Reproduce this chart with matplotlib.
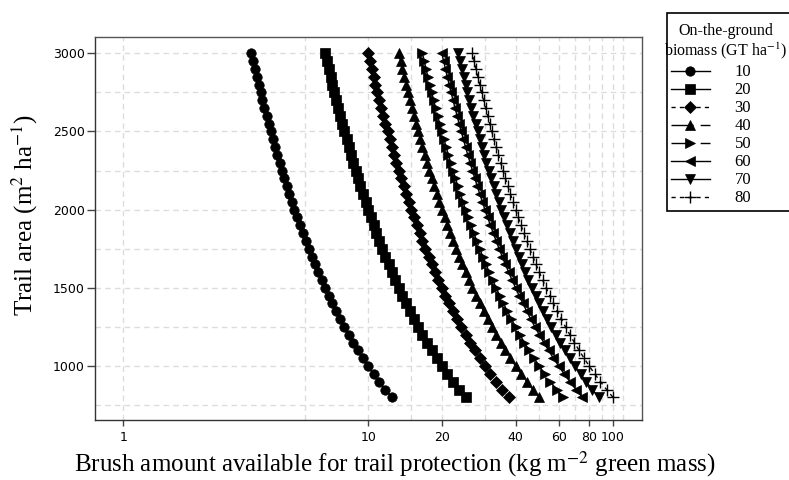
import matplotlib
matplotlib.use("Agg")
import matplotlib.pyplot as plt

plt.rcParams["mathtext.fontset"] = "stix"

trail_area = [800, 850, 900, 950, 1000, 1050, 1100, 1150, 1200, 1250, 1300, 1350, 1400, 1450, 1500,
              1550, 1600, 1650, 1700, 1750, 1800, 1850, 1900, 1950, 2000, 2050, 2100, 2150, 2200, 2250,
              2300, 2350, 2400, 2450, 2500, 2550, 2600, 2650, 2700, 2750, 2800, 2850, 2900, 2950, 3000]

brush_10 = [12.50, 11.76, 11.11, 10.53, 10.00, 9.52, 9.09, 8.70, 8.33, 8.00, 7.69, 7.41, 7.14, 6.90, 6.67,
            6.45, 6.25, 6.06, 5.88, 5.71, 5.56, 5.41, 5.26, 5.13, 5.00, 4.88, 4.76, 4.65, 4.55, 4.44,
            4.35, 4.26, 4.17, 4.08, 4.00, 3.92, 3.85, 3.77, 3.70, 3.64, 3.57, 3.51, 3.45, 3.39, 3.33]
brush_20 = [25.00, 23.53, 22.22, 21.05, 20.00, 19.05, 18.18, 17.39, 16.67, 16.00, 15.38, 14.81, 14.29, 13.79, 13.33,
            12.90, 12.50, 12.12, 11.76, 11.43, 11.11, 10.81, 10.53, 10.26, 10.00, 9.76, 9.52, 9.30, 9.09, 8.89,
            8.70, 8.51, 8.33, 8.16, 8.00, 7.84, 7.69, 7.55, 7.41, 7.27, 7.14, 7.02, 6.90, 6.78, 6.67]
brush_30 = [37.50, 35.29, 33.33, 31.58, 30.00, 28.57, 27.27, 26.09, 25.00, 24.00, 23.08, 22.22, 21.43, 20.69, 20.00,
            19.35, 18.75, 18.18, 17.65, 17.14, 16.67, 16.22, 15.79, 15.38, 15.00, 14.63, 14.29, 13.95, 13.64, 13.33,
            13.04, 12.77, 12.50, 12.24, 12.00, 11.76, 11.54, 11.32, 11.11, 10.91, 10.71, 10.53, 10.34, 10.17, 10.00]
brush_40 = [50.00, 47.06, 44.44, 42.11, 40.00, 38.10, 36.36, 34.78, 33.33, 32.00, 30.77, 29.63, 28.57, 27.59, 26.67,
            25.81, 25.00, 24.24, 23.53, 22.86, 22.22, 21.62, 21.05, 20.51, 20.00, 19.51, 19.05, 18.60, 18.18, 17.78,
            17.39, 17.02, 16.67, 16.33, 16.00, 15.69, 15.38, 15.09, 14.81, 14.55, 14.29, 14.04, 13.79, 13.56, 13.33]
brush_50 = [62.50, 58.82, 55.56, 52.63, 50.00, 47.62, 45.45, 43.48, 41.67, 40.00, 38.46, 37.04, 35.71, 34.48, 33.33,
            32.26, 31.25, 30.30, 29.41, 28.57, 27.78, 27.03, 26.32, 25.64, 25.00, 24.39, 23.81, 23.26, 22.73, 22.22,
            21.74, 21.28, 20.83, 20.41, 20.00, 19.61, 19.23, 18.87, 18.52, 18.18, 17.86, 17.54, 17.24, 16.95, 16.67]
brush_60 = [75.00, 70.59, 66.67, 63.16, 60.00, 57.14, 54.55, 52.17, 50.00, 48.00, 46.15, 44.44, 42.86, 41.38, 40.00,
            38.71, 37.50, 36.36, 35.29, 34.29, 33.33, 32.43, 31.58, 30.77, 30.00, 29.27, 28.57, 27.91, 27.27, 26.67,
            26.09, 25.53, 25.00, 24.49, 24.00, 23.53, 23.08, 22.64, 22.22, 21.82, 21.43, 21.05, 20.69, 20.34, 20.00]
brush_70 = [87.50, 82.35, 77.78, 73.68, 70.00, 66.67, 63.64, 60.87, 58.33, 56.00, 53.85, 51.85, 50.00, 48.28, 46.67,
            45.16, 43.75, 42.42, 41.18, 40.00, 38.89, 37.84, 36.84, 35.90, 35.00, 34.15, 33.33, 32.56, 31.82, 31.11,
            30.43, 29.79, 29.17, 28.57, 28.00, 27.45, 26.92, 26.42, 25.93, 25.45, 25.00, 24.56, 24.14, 23.73, 23.33]
brush_80 = [100.00, 94.12, 88.89, 84.21, 80.00, 76.19, 72.73, 69.57, 66.67, 64.00, 61.54, 59.26, 57.14, 55.17, 53.33,
            51.61, 50.00, 48.48, 47.06, 45.71, 44.44, 43.24, 42.11, 41.03, 40.00, 39.02, 38.10, 37.21, 36.36, 35.56,
            34.78, 34.04, 33.33, 32.65, 32.00, 31.37, 30.77, 30.19, 29.63, 29.09, 28.57, 28.07, 27.59, 27.12, 26.67]

series_labels = ["10", "20", "30", "40", "50", "60", "70", "80"]
series_values = [brush_10, brush_20, brush_30, brush_40, brush_50, brush_60, brush_70, brush_80]

x_ticks = [1, 10, 20, 40, 60, 80, 100]
x_tick_labels = ["1", "10", "20", "40", "60", "80", "100"]
x_minor = [5.5, 15, 30, 50, 70, 90, 110]
y_ticks = [1000, 1500, 2000, 2500, 3000]
y_minor = [750, 1250, 1750, 2250, 2750]

legend_title = "On-the-ground\nbiomass (GT ha$^{-1}$)"
x_label = "Brush amount available for trail protection (kg m$^{-2}$ green mass)"
y_label = "Trail area (m$^{2}$ ha$^{-1}$)"

markers = ["o", "s", "D", "^", ">", "<", "v", "+"]
msizes = [6.8, 6.6, 6.0, 7.8, 7.8, 7.8, 7.8, 8.0]
dashes = ["-", "-", (0, (3, 3)), (0, (16, 5)), (0, (16, 5)), "-", "-", (0, (3, 3))]

serif = ["Liberation Serif", "DejaVu Serif"]

fig = plt.figure(figsize=(7.89, 4.80), dpi=100)
ax = fig.add_axes([0.1198, 0.125, 0.6935, 0.7969])
ax.set_xscale("log")
ax.set_xlim(0.763, 131)
ax.set_ylim(655, 3101)

for lab, vals, m, ms, ls in zip(series_labels, series_values, markers, msizes, dashes):
    ax.plot(vals, trail_area, linestyle=ls, color="black", lw=1.0, marker=m, markersize=ms,
            markerfacecolor="black", markeredgecolor="black", markeredgewidth=1.0 if m == "+" else 0.5,
            label=lab, zorder=3)

ax.set_xticks(x_ticks)
ax.set_xticklabels(x_tick_labels)
ax.set_xticks(x_minor, minor=True)
ax.set_xticklabels([], minor=True)
ax.set_yticks(y_ticks)
ax.set_yticklabels([str(v) for v in y_ticks])
ax.set_yticks(y_minor, minor=True)

ax.set_axisbelow(True)
ax.grid(which="both", color="#dcdcdc", linestyle=(0, (4, 3)), lw=1.0)

ax.tick_params(axis="x", which="major", length=4, width=1, color="#444444", pad=4,
               labelsize=9, labelcolor="black")
ax.tick_params(axis="y", which="major", length=6, width=1, color="#444444", pad=1,
               labelsize=9, labelcolor="black")
ax.tick_params(which="minor", length=0)
for sp in ax.spines.values():
    sp.set_color("#555555")
    sp.set_linewidth(1.0)
ax.spines["left"].set_color("#333333")
ax.spines["bottom"].set_color("#333333")

fig.text(0.032, 0.552, y_label, rotation=90, ha="center", va="center",
         fontsize=18, family=serif)
fig.text(0.50, 0.033, x_label, ha="center", va="center", fontsize=18, family=serif)

# legend box: entries left-aligned, blank space reserved on top for a centered two-line title
leg = ax.legend(loc="upper left", bbox_to_anchor=(667 / 789, 1 - 214 / 480, 126 / 789, 201 / 480),
                bbox_transform=fig.transFigure, mode="expand", title=" \n ",
                prop={"family": serif, "size": 12}, title_fontproperties={"family": serif, "size": 17},
                frameon=True, fancybox=False, edgecolor="black", framealpha=1, facecolor="white",
                handlelength=2.3, handletextpad=1.5, labelspacing=0.12, borderpad=0.25,
                borderaxespad=0, markerscale=1.0, alignment="left")
leg.get_frame().set_linewidth(1.2)
fig.text(726 / 789, 1 - 23 / 480, legend_title, ha="center", va="top",
         multialignment="center", fontsize=11.5, family=serif, linespacing=1.1, zorder=10)

fig.savefig("out.png", dpi=100)
